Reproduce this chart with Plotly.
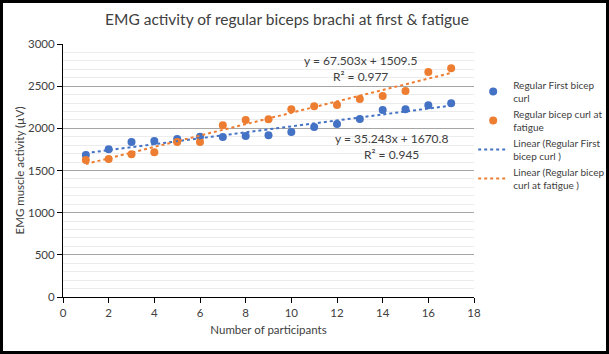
import plotly.graph_objects as go

participants = list(range(1, 18))
first_curl = [1684, 1751, 1838, 1850, 1873, 1901, 1897, 1909, 1917, 1957, 2016, 2051, 2111, 2217, 2225, 2273, 2296]
fatigue_curl = [1624, 1636, 1692, 1716, 1838, 1838, 2036, 2099, 2107, 2225, 2261, 2277, 2348, 2383, 2443, 2668, 2712]

first_fit = (35.243, 1670.8, 0.945)
fatigue_fit = (67.503, 1509.5, 0.977)

BLUE = "#4472C4"
ORANGE = "#ED7D31"
FONT = "Lato, Liberation Sans, Arial"
TXT = "#404040"

fig = go.Figure()
fig.add_trace(go.Scatter(x=participants, y=first_curl, mode="markers",
                         marker=dict(color=BLUE, size=8),
                         name="Regular First bicep<br>curl"))
fig.add_trace(go.Scatter(x=participants, y=fatigue_curl, mode="markers",
                         marker=dict(color=ORANGE, size=8),
                         name="Regular bicep curl at<br>fatigue"))

xs = [participants[0], participants[-1]]
fig.add_trace(go.Scatter(x=xs, y=[first_fit[0] * x + first_fit[1] for x in xs], mode="lines",
                         line=dict(color=BLUE, width=2, dash="dot"),
                         name="Linear (Regular First<br>bicep curl )"))
fig.add_trace(go.Scatter(x=xs, y=[fatigue_fit[0] * x + fatigue_fit[1] for x in xs], mode="lines",
                         line=dict(color=ORANGE, width=2, dash="dot"),
                         name="Linear (Regular bicep<br>curl at fatigue )"))

fig.add_annotation(x=13.05, y=2710, text=f"y = {fatigue_fit[0]}x + {fatigue_fit[1]}<br>R² = {fatigue_fit[2]}",
                   showarrow=False, font=dict(family=FONT, size=12, color=TXT), align="center")
fig.add_annotation(x=14.4, y=1785, text=f"y = {first_fit[0]}x + {first_fit[1]}<br>R² = {first_fit[2]}",
                   showarrow=False, font=dict(family=FONT, size=12, color=TXT), align="center")

fig.add_shape(type="rect", xref="paper", yref="paper",
              x0=-61.5 / 411, x1=544.5 / 411, y0=-55.5 / 253, y1=295.5 / 253,
              line=dict(color="black", width=3), layer="above")

fig.update_layout(
    width=609, height=354,
    margin=dict(l=63, r=135, t=44, b=57, autoexpand=False),
    paper_bgcolor="white", plot_bgcolor="white",
    font=dict(family=FONT, size=11, color=TXT),
    title=dict(text="EMG activity of regular biceps brachi at first & fatigue",
               x=287 / 609, xanchor="center", y=1 - 20 / 354, yanchor="middle",
               font=dict(family=FONT, size=15.5, color=TXT)),
    showlegend=True,
    legend=dict(x=0.998, xanchor="left", y=(297 - 72) / 253, yanchor="top",
                font=dict(family=FONT, size=10, color=TXT), tracegroupgap=0,
                itemwidth=30, bgcolor="rgba(0,0,0,0)"),
    xaxis=dict(range=[0, 18], dtick=2, showline=True, linecolor="black", linewidth=1,
               ticks="outside", ticklen=5, tickcolor="black", showgrid=False, zeroline=False,
               title=dict(text="Number of participants", font=dict(family=FONT, size=11.5, color=TXT), standoff=8),
               tickfont=dict(family=FONT, size=11.5, color=TXT)),
    yaxis=dict(range=[0, 3000], dtick=500, showline=True, linecolor="black", linewidth=1,
               ticks="outside", ticklen=5, tickcolor="black",
               showgrid=True, gridcolor="#a6a6a6", gridwidth=1, zeroline=False,
               minor=dict(dtick=100, showgrid=True, gridcolor="#ececec", gridwidth=1),
               title=dict(text="EMG muscle activity (µV)", font=dict(family=FONT, size=11.5, color=TXT), standoff=0),
               tickfont=dict(family=FONT, size=11.5, color=TXT)),
)

fig.write_html("out.html")
